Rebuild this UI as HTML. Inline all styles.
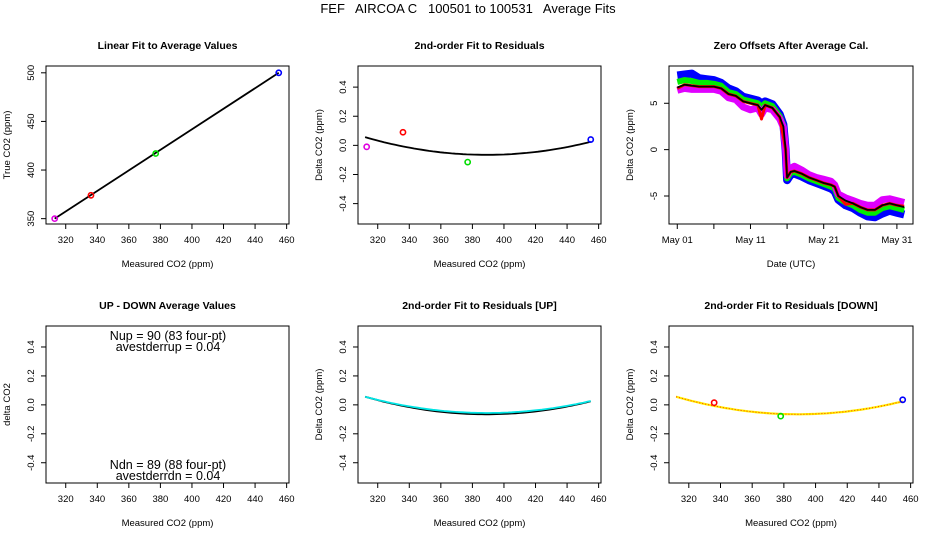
<!DOCTYPE html>
<html><head><meta charset="utf-8">
<style>
html,body{margin:0;padding:0;background:#fff;}
svg{display:block;font-family:"Liberation Sans",sans-serif;}
</style></head>
<body>
<svg id="chart" width="936" height="540" viewBox="0 0 936 540">
<text x="468" y="13" font-size="13" text-anchor="middle" xml:space="preserve">FEF   AIRCOA C   100501 to 100531   Average Fits</text>
</svg>
<script>
// ---- data ----
const calX = [313, 336, 377, 455];
const calTrue = [350, 374, 417, 500];
const calResid = [-0.01, 0.09, -0.115, 0.04];
const calColors = ['#e000e0', '#ff0000', '#00dd00', '#0000ff'];
const fitCoef = [2.05e-5, 389, -0.065]; // a, vertex x, vertex y
const fitUpCoef = [1.9e-5, 389, -0.056];
const downX = [336, 378, 455];
const downResid = [0.015, -0.078, 0.035];
const downColors = ['#ff0000', '#00dd00', '#0000ff'];
const residTicks = [-0.4, -0.2, 0.0, 0.2, 0.4];
const residTickLabels = ['-0.4', '-0.2', '0.0', '0.2', '0.4'];
const co2Ticks = [320, 340, 360, 380, 400, 420, 440, 460];
const trueTicks = [350, 400, 450, 500];
const days = [0,1,2,3,4,5,6,7,8,9,10,11,11.5,12,13,14,14.5,14.8,15,15.5,16,17,18,19,20,21,21.5,22,23,24,25,26,27,28,29,30,31];
const blueSeries = [8.0,8.1,8.2,7.7,7.6,7.5,7.2,6.6,6.3,5.7,5.5,5.3,5.0,5.2,4.9,3.8,2.7,0,-3.3,-2.7,-2.6,-2.9,-3.3,-3.6,-3.9,-4.2,-4.5,-5.4,-6.0,-6.3,-6.8,-7.2,-7.3,-6.9,-6.6,-6.8,-7.0];
const greenSeries = [7.3,7.5,7.4,7.2,7.2,7.1,6.9,6.2,6.0,5.4,5.2,5.0,4.6,5.0,4.7,3.6,2.6,0,-3.1,-2.5,-2.4,-2.7,-3.1,-3.4,-3.7,-4.0,-4.2,-5.2,-5.7,-6.0,-6.5,-6.8,-6.8,-6.3,-6.1,-6.3,-6.5];
const magentaSeries = [6.4,6.6,6.5,6.5,6.5,6.5,6.3,5.6,5.4,4.6,4.3,4.5,3.8,4.5,4.3,3.3,2.4,0,-2.8,-2.0,-1.8,-2.2,-2.7,-3.0,-3.2,-3.4,-3.8,-4.8,-5.2,-5.5,-5.8,-6.0,-6.0,-5.4,-5.3,-5.5,-5.7];
const redSeries = [6.6,7.0,6.9,6.8,6.8,6.8,6.6,6.0,5.8,5.2,5.0,4.8,3.3,4.8,4.5,3.5,1.4,0,-3.0,-2.4,-2.3,-2.6,-3.0,-3.3,-3.6,-3.8,-4.0,-5.0,-5.9,-5.8,-6.2,-6.5,-6.5,-6.0,-5.8,-6.0,-6.1];
const blackSeries = [6.7,7.0,6.9,6.8,6.8,6.8,6.6,6.0,5.8,5.2,5.0,4.8,4.3,4.8,4.5,3.5,2.5,0,-3.0,-2.4,-2.3,-2.6,-3.0,-3.3,-3.6,-3.8,-4.0,-5.0,-5.5,-5.8,-6.2,-6.5,-6.5,-6.0,-5.8,-6.0,-6.2];
const dateTicks = [0, 10, 20, 30];
const dateMinor = [5, 15, 25];
const dateLabels = ['May 01', 'May 11', 'May 21', 'May 31'];
const offTicks = [-5, 0, 5];

const svg = document.getElementById('chart');
const NS = 'http://www.w3.org/2000/svg';
function mk(tag, attrs, parent) {
  const e = document.createElementNS(NS, tag);
  for (const k in attrs) e.setAttribute(k, attrs[k]);
  (parent || svg).appendChild(e);
  return e;
}
function txt(s, attrs, parent) { const t = mk('text', attrs, parent); t.textContent = s; return t; }

function panel(o) {
  const g = mk('g', {});
  
  
  const sx = v => o.L + (v - o.x0) / (o.x1 - o.x0) * (o.R - o.L);
  const sy = v => o.B - (v - o.y0) / (o.y1 - o.y0) * (o.B - o.T);
  const fr = mk('rect', {x: o.L, y: o.T, width: o.R - o.L, height: o.B - o.T, fill: 'none', stroke: '#000', 'stroke-width': 1}, g);
  
  
  const t = txt(o.title, {x: (o.L + o.R) / 2, y: o.T - 17, 'font-size': 10.5, 'font-weight': 'bold', 'text-anchor': 'middle'}, g);
  
  
  const xa = mk('g', {}, g);
  
  
  o.xt.forEach((v, i) => {
    mk('line', {x1: sx(v), x2: sx(v), y1: o.B, y2: o.B + 5, stroke: '#000'}, xa);
    const l = txt(o.xl ? o.xl[i] : String(v), {x: sx(v), y: o.B + 19, 'font-size': 9.5, 'text-anchor': 'middle'}, xa);
    
    
  });
  (o.xminor || []).forEach(v => mk('line', {x1: sx(v), x2: sx(v), y1: o.B, y2: o.B + 5, stroke: '#000'}, xa));
  const xt = txt(o.xtitle, {x: (o.L + o.R) / 2, y: o.B + 43, 'font-size': 9.5, 'text-anchor': 'middle'}, g);
  
  
  const ya = mk('g', {}, g);
  
  
  o.yt.forEach((v, i) => {
    mk('line', {x1: o.L - 5, x2: o.L, y1: sy(v), y2: sy(v), stroke: '#000'}, ya);
    const x = o.L - 12, y = sy(v);
    const l = txt(o.yl ? o.yl[i] : String(v), {x: x, y: y, 'font-size': 9.5, 'text-anchor': 'middle', transform: `rotate(-90 ${x} ${y})`}, ya);
    
    
  });
  const yx = o.L - 36, yy = (o.T + o.B) / 2;
  const ytt = txt(o.ytitle, {x: yx, y: yy, 'font-size': 9.5, 'text-anchor': 'middle', transform: `rotate(-90 ${yx} ${yy})`}, g);
  
  
  return {g, sx, sy};
}
function point(p, x, y, c, name) {
  const e = mk('circle', {cx: p.sx(x), cy: p.sy(y), r: 2.6, fill: 'none', stroke: c, 'stroke-width': 1.6}, p.g);
  
  
}
function quad(p, coef, x0, x1, attrs, name) {
  let d = '';
  for (let i = 0; i <= 60; i++) {
    const x = x0 + (x1 - x0) * i / 60;
    const y = coef[0] * (x - coef[1]) ** 2 + coef[2];
    d += (i ? 'L' : 'M') + p.sx(x).toFixed(1) + ',' + p.sy(y).toFixed(1);
  }
  const e = mk('path', Object.assign({d, fill: 'none'}, attrs), p.g);
  
  
}
const X0 = 307.5, X1 = 461.5, R0 = -0.54, R1 = 0.545;

// Panel 1
const p1 = panel({name: 'linear-fit-panel', title: 'Linear Fit to Average Values', L: 46, R: 289, T: 66, B: 224, x0: X0, x1: X1, y0: 344.5, y1: 507, xt: co2Ticks, yt: trueTicks, xtitle: 'Measured CO2 (ppm)', ytitle: 'True CO2 (ppm)'});
{
  const n = calX.length - 1;
  const e = mk('line', {x1: p1.sx(calX[0]), y1: p1.sy(calTrue[0]), x2: p1.sx(calX[n]), y2: p1.sy(calTrue[n]), stroke: '#000', 'stroke-width': 1.8}, p1.g);
  
  
  calX.forEach((x, i) => point(p1, x, calTrue[i], calColors[i], 'cal-point'));
}
// Panel 2
const p2 = panel({name: 'residual-fit-panel', title: '2nd-order Fit to Residuals', L: 358, R: 601, T: 66, B: 224, x0: X0, x1: X1, y0: R0, y1: R1, xt: co2Ticks, yt: residTicks, yl: residTickLabels, xtitle: 'Measured CO2 (ppm)', ytitle: 'Delta CO2 (ppm)'});
quad(p2, fitCoef, 312, 455, {stroke: '#000', 'stroke-width': 1.8}, 'fit-curve');
calX.forEach((x, i) => point(p2, x, calResid[i], calColors[i], 'residual-point'));

// Panel 3
const p3 = panel({name: 'zero-offsets-panel', title: 'Zero Offsets After Average Cal.', L: 669, R: 913, T: 66, B: 224, x0: -1.13, x1: 32.2, y0: -8.02, y1: 9.02, xt: dateTicks, xl: dateLabels, xminor: dateMinor, yt: offTicks, xtitle: 'Date (UTC)', ytitle: 'Delta CO2 (ppm)'});
[[blueSeries, '#0000ff', 8, 'blue-series'], [greenSeries, '#00ee00', 6, 'green-series'], [magentaSeries, '#e000ff', 7, 'magenta-series'], [redSeries, '#ff0000', 3, 'red-series'], [blackSeries, '#000', 1.8, 'mean-series']].forEach(s => {
  const d = days.map((x, i) => (i ? 'L' : 'M') + p3.sx(x).toFixed(1) + ',' + p3.sy(s[0][i]).toFixed(1)).join('');
  const e = mk('path', {d, fill: 'none', stroke: s[1], 'stroke-width': s[2], 'stroke-linejoin': 'round'}, p3.g);
  
  
});

// Panel 4
const p4 = panel({name: 'up-down-panel', title: 'UP - DOWN Average Values', L: 46, R: 289, T: 326, B: 483, x0: X0, x1: X1, y0: R0, y1: R1, xt: co2Ticks, yt: residTicks, yl: residTickLabels, xtitle: 'Measured CO2 (ppm)', ytitle: 'delta CO2'});
[['Nup = 90 (83 four-pt)', 340], ['avestderrup =  0.04', 351], ['Ndn = 89 (88 four-pt)', 469], ['avestderrdn =  0.04', 480]].forEach(a => {
  const e = txt(a[0], {x: 168, y: a[1], 'font-size': 12.5, 'text-anchor': 'middle', 'xml:space': 'preserve'}, p4.g);
  
  
});

// Panel 5
const p5 = panel({name: 'residual-up-panel', title: '2nd-order Fit to Residuals [UP]', L: 358, R: 601, T: 326, B: 483, x0: X0, x1: X1, y0: R0, y1: R1, xt: co2Ticks, yt: residTicks, yl: residTickLabels, xtitle: 'Measured CO2 (ppm)', ytitle: 'Delta CO2 (ppm)'});
quad(p5, fitCoef, 312, 455, {stroke: '#000', 'stroke-width': 1.8}, 'fit-curve');
quad(p5, fitUpCoef, 312, 455, {stroke: '#00e5e5', 'stroke-width': 1.8}, 'up-fit-curve');

// Panel 6
const p6 = panel({name: 'residual-down-panel', title: '2nd-order Fit to Residuals [DOWN]', L: 669, R: 913, T: 326, B: 483, x0: X0, x1: X1, y0: R0, y1: R1, xt: co2Ticks, yt: residTicks, yl: residTickLabels, xtitle: 'Measured CO2 (ppm)', ytitle: 'Delta CO2 (ppm)'});
quad(p6, fitCoef, 312, 455, {stroke: '#ffee00', 'stroke-width': 2.2}, 'down-fit-curve');
quad(p6, fitCoef, 312, 455, {stroke: '#ff3300', 'stroke-width': 1, 'stroke-dasharray': '1 2'}, 'down-fit-dots');
downX.forEach((x, i) => point(p6, x, downResid[i], downColors[i], 'down-point'));
</script>
</body></html>
